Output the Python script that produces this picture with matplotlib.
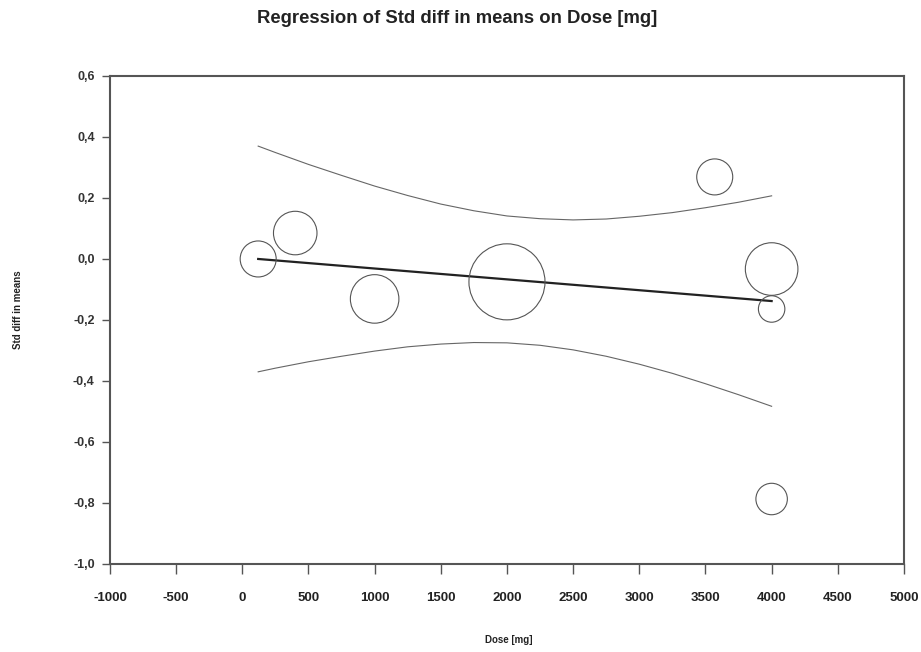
import numpy as np
import matplotlib.pyplot as plt
from matplotlib.ticker import FuncFormatter

plt.rcParams['font.family'] = ['Liberation Sans', 'DejaVu Sans']

# studies (dose, effect, relative weight %)
dosis = [120, 400, 1000, 2000, 3570, 4000, 4000, 4000]
efecto = [0.0, 0.085, -0.131, -0.075, 0.269, -0.033, -0.164, -0.787]
peso = [7.6, 11.1, 13.8, 33.9, 7.6, 16.2, 4.1, 5.8]

# regression line
linea_x = [120, 4000]
linea_y = [0.0, -0.138]

# confidence limits
ci_x = [120, 250, 500, 750, 1000, 1250, 1500, 1750, 2000, 2250, 2500,
        2750, 3000, 3250, 3500, 3750, 4000]
ci_sup = [0.370, 0.349, 0.310, 0.274, 0.239, 0.208, 0.180, 0.158, 0.141,
          0.132, 0.128, 0.131, 0.140, 0.152, 0.168, 0.186, 0.207]
ci_inf = [-0.370, -0.358, -0.337, -0.319, -0.302, -0.288, -0.279, -0.274,
          -0.275, -0.283, -0.298, -0.319, -0.345, -0.375, -0.409, -0.445, -0.483]

fig = plt.figure(figsize=(9.21, 6.52), dpi=100)
ax = fig.add_axes([0.1194, 0.1350, 0.8621, 0.7485])

gris = '#555555'
ax.plot(ci_x, ci_sup, color='#666666', lw=0.8)
ax.plot(ci_x, ci_inf, color='#666666', lw=0.8)
ax.plot(linea_x, linea_y, color='#222222', lw=1.6)

tam = np.array(peso) * 88.45
ax.scatter(dosis, efecto, s=tam, facecolors='none', edgecolors=gris, linewidths=0.8, zorder=3)

ax.set_xlim(-1000, 5000)
ax.set_ylim(-1.0, 0.6)
ax.set_xticks(np.arange(-1000, 5001, 500))
ax.set_yticks(np.arange(-1.0, 0.61, 0.2))
ax.yaxis.set_major_formatter(FuncFormatter(lambda v, p: f'{v:.1f}'.replace('.', ',').replace('-0,0', '0,0')))
ax.xaxis.set_major_formatter(FuncFormatter(lambda v, p: f'{int(round(v))}'))

for s in ax.spines.values():
    s.set_color(gris)
    s.set_linewidth(1.5)
ax.tick_params(axis='x', direction='out', length=7, width=1, color=gris, pad=13,
               labelsize=9.5, labelcolor='#222222')
ax.tick_params(axis='y', direction='out', length=6, width=1, color=gris, pad=5,
               labelsize=9, labelcolor='#333333')
for lab in ax.get_xticklabels() + ax.get_yticklabels():
    lab.set_fontweight('bold')

fig.text(0.4963, 0.972, 'Regression of Std diff in means on Dose [mg]', ha='center', va='center',
         fontsize=13.3, fontweight='bold', color='#222222')
fig.text(0.552, 1 - 640 / 652, 'Dose [mg]', ha='center', va='center', fontsize=7,
         fontweight='bold', color='#222222')
fig.text(18 / 921, 1 - 310 / 652, 'Std diff in means', ha='center', va='center', rotation=90,
         fontsize=7, fontweight='bold', color='#222222')

fig.savefig('out.png', dpi=100)
